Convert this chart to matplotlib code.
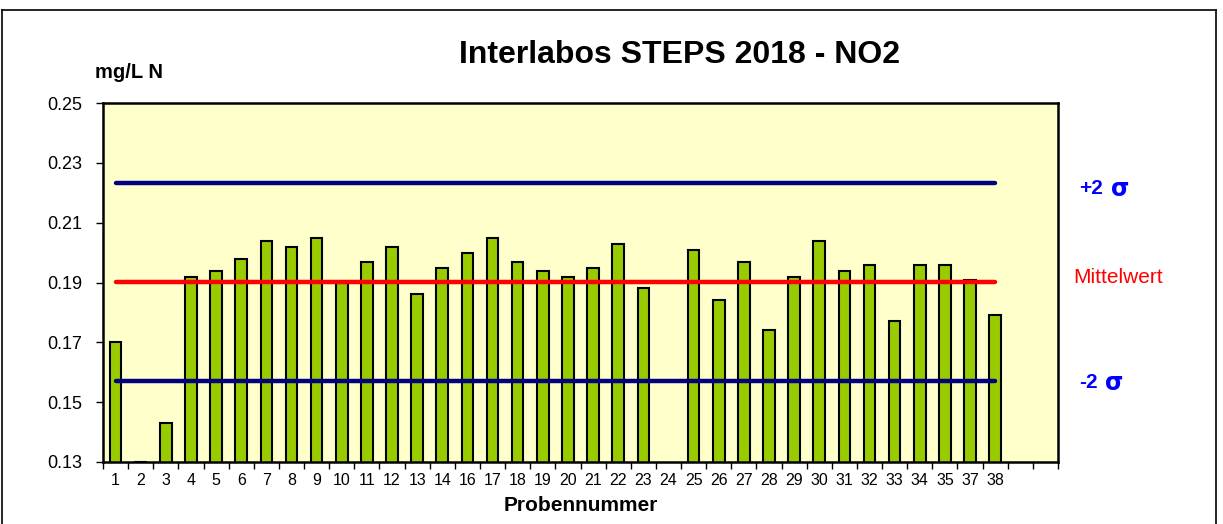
import numpy as np
import matplotlib
matplotlib.use("Agg")
import matplotlib.pyplot as plt
from matplotlib.lines import Line2D

plt.rcParams['font.family'] = ['Liberation Sans', 'DejaVu Sans']

# Sample numbers (15 and 36 not reported) and measured NO2 values
labels = ['1', '2', '3', '4', '5', '6', '7', '8', '9', '10', '11', '12', '13',
          '14', '16', '17', '18', '19', '20', '21', '22', '23', '24', '25',
          '26', '27', '28', '29', '30', '31', '32', '33', '34', '35', '37', '38']
values = [0.170, 0.130, 0.143, 0.192, 0.194, 0.198, 0.204, 0.202, 0.205, 0.190,
          0.197, 0.202, 0.186, 0.195, 0.200, 0.205, 0.197, 0.194, 0.192, 0.195,
          0.203, 0.188, np.nan, 0.201, 0.184, 0.197, 0.174, 0.192, 0.204, 0.194,
          0.196, 0.177, 0.196, 0.196, 0.191, 0.179]
n_slots = 38  # two empty slots follow the last sample

mean_value = 0.1902
upper_2s = 0.2232
lower_2s = 0.1570

fig = plt.figure(figsize=(12.23, 5.24), dpi=100)
ax = fig.add_axes([103 / 1223, 62 / 524, 955 / 1223, 359 / 524])
ax.set_facecolor('#FFFFCC')

x = np.arange(len(labels))
vals = np.array(values, dtype=float)
ax.bar(x, np.nan_to_num(vals), width=0.46, color='#99CC00', edgecolor='black',
       linewidth=1.5, zorder=2)

# control limits and mean
ax.hlines([upper_2s, lower_2s], x[0], x[-1], colors='#000080', linewidth=3.2,
          capstyle='round', zorder=3)
ax.hlines(mean_value, x[0], x[-1], colors='#FF0000', linewidth=3.2,
          capstyle='round', zorder=3)

ax.set_xlim(-0.5, n_slots - 0.5)
ax.set_ylim(0.13, 0.25)
yt = np.arange(0.13, 0.2501, 0.02)
ax.set_yticks(yt)
ax.set_yticklabels([f'{v:.2f}' for v in yt], fontsize=13)

ax.set_xticks(np.arange(n_slots + 1) - 0.5)
ax.set_xticklabels([])
ax.set_xticks(x, minor=True)
ax.set_xticklabels(labels, minor=True, fontsize=11.5)
ax.tick_params(axis='x', which='minor', length=0, pad=8)
ax.tick_params(axis='x', which='major', length=5, width=1, direction='out')
ax.tick_params(axis='y', length=5, width=1, direction='out', pad=10)

for spine in ax.spines.values():
    spine.set_linewidth(1.8)

ax.set_xlabel('Probennummer', fontsize=15, fontweight='bold', labelpad=6)

fig.text(0.5556, 0.895, 'Interlabos STEPS 2018 - NO2', ha='center', va='center',
         fontsize=23, fontweight='bold')
fig.text(95 / 1223, 1 - 73 / 524, 'mg/L N', ha='left', va='center', fontsize=14.5,
         fontweight='bold')

# labels for the reference lines, right of the plot
tr = ax.get_yaxis_transform()
for yv, sign, sx in [(upper_2s - 0.0017, '+2', 1.0555), (lower_2s - 0.0003, '-2', 1.049)]:
    ax.text(1.022, yv, sign, transform=tr, color='#0000FF', fontsize=15,
            fontweight='bold', va='center', ha='left')
    ax.text(sx, yv - 0.0003, 'σ', transform=tr, color='#0000FF',
            fontsize=17, fontweight='bold', va='center', ha='left',
            family='DejaVu Sans')
ax.text(1.0157, mean_value + 0.0014, 'Mittelwert', transform=tr,
        color='#FF0000', fontsize=15, va='center', ha='left')

# outer chart frame
fx0, fx1, fy1 = 2 / 1223, 1216 / 1223, 1 - 10 / 524
for xs, ys in [([fx0, fx1], [fy1, fy1]), ([fx0, fx0], [0, fy1]), ([fx1, fx1], [0, fy1])]:
    fig.add_artist(Line2D(xs, ys, color='black', linewidth=1.2,
                          transform=fig.transFigure))

fig.savefig('out.png', dpi=100)
